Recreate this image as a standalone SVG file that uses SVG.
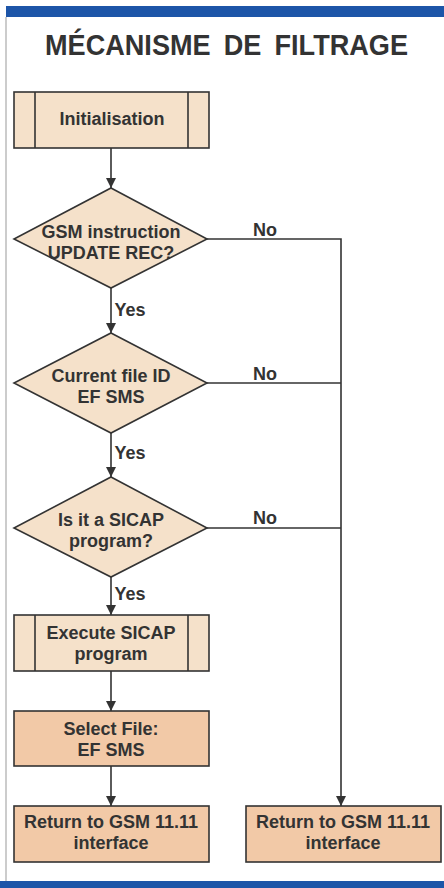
<svg xmlns="http://www.w3.org/2000/svg" width="444" height="888" viewBox="0 0 444 888">
<style>
.t{font-family:"Liberation Sans",Arial,sans-serif;font-weight:700;fill:#333;text-anchor:middle;font-size:18px}
.title{font-family:"Liberation Sans",Arial,sans-serif;font-weight:700;fill:#333;font-size:29px;word-spacing:6px}
.light{fill:#f5e1ca;stroke:#333;stroke-width:1.6}
.dark{fill:#f2c9a7;stroke:#333;stroke-width:1.6}
.ln{stroke:#333;stroke-width:1.6;fill:none}
</style>
<defs>
<marker id="ah" viewBox="0 0 10 10" refX="10" refY="5" markerWidth="10" markerHeight="10" markerUnits="userSpaceOnUse" orient="auto">
<path d="M0,0 L10,5 L0,10 z" fill="#333"/>
</marker>
</defs>
<rect x="0" y="0" width="444" height="888" fill="#fff"/>
<rect x="6" y="6" width="438" height="11" fill="#1d55a8"/>
<rect x="0" y="881" width="444" height="7" fill="#1d55a8"/>
<line x1="6" y1="17" x2="6" y2="881" stroke="#bbb" stroke-width="1.5"/>
<text class="title" x="226.5" y="55" text-anchor="middle" textLength="363" lengthAdjust="spacingAndGlyphs">MÉCANISME DE FILTRAGE</text>

<g id="connectors">
<line class="ln" x1="111" y1="148" x2="111" y2="188" marker-end="url(#ah)"/>
<line class="ln" x1="111" y1="288" x2="111" y2="333" marker-end="url(#ah)"/>
<line class="ln" x1="111" y1="433" x2="111" y2="477" marker-end="url(#ah)"/>
<line class="ln" x1="111" y1="577" x2="111" y2="615" marker-end="url(#ah)"/>
<line class="ln" x1="111" y1="671" x2="111" y2="711" marker-end="url(#ah)"/>
<line class="ln" x1="111" y1="766" x2="111" y2="806" marker-end="url(#ah)"/>
<polyline class="ln" points="207,239 341,239 341,806" marker-end="url(#ah)"/>
<line class="ln" x1="207" y1="383" x2="341" y2="383"/>
<line class="ln" x1="207" y1="528" x2="341" y2="528"/>
<text class="t" x="130" y="316">Yes</text>
<text class="t" x="130" y="459">Yes</text>
<text class="t" x="130" y="600">Yes</text>
<text class="t" x="265" y="236">No</text>
<text class="t" x="265" y="380">No</text>
<text class="t" x="265" y="524">No</text>
</g>

<g id="init">
<rect class="light" x="14" y="92" width="195" height="56"/>
<line class="ln" x1="35" y1="92" x2="35" y2="148"/>
<line class="ln" x1="188" y1="92" x2="188" y2="148"/>
<text class="t" x="112" y="125">Initialisation</text>
</g>

<g id="dec1">
<polygon class="light" points="111,188 207,239 111,288 14,239"/>
<text class="t" x="111" y="238">GSM instruction</text>
<text class="t" x="111" y="259">UPDATE REC?</text>
</g>

<g id="dec2">
<polygon class="light" points="111,333 207,383 111,433 14,383"/>
<text class="t" x="111" y="382">Current file ID</text>
<text class="t" x="111" y="403">EF SMS</text>
</g>

<g id="dec3">
<polygon class="light" points="111,477 207,528 111,577 14,528"/>
<text class="t" x="111" y="526">Is it a SICAP</text>
<text class="t" x="111" y="547">program?</text>
</g>

<g id="exec">
<rect class="light" x="14" y="615" width="195" height="56"/>
<line class="ln" x1="35" y1="615" x2="35" y2="671"/>
<line class="ln" x1="188" y1="615" x2="188" y2="671"/>
<text class="t" x="111" y="639">Execute SICAP</text>
<text class="t" x="111" y="660">program</text>
</g>

<g id="select">
<rect class="dark" x="14" y="711" width="195" height="55"/>
<text class="t" x="111" y="735">Select File:</text>
<text class="t" x="111" y="756">EF SMS</text>
</g>

<g id="ret1">
<rect class="dark" x="14" y="806" width="195" height="56"/>
<text class="t" x="111" y="828">Return to GSM 11.11</text>
<text class="t" x="111" y="849">interface</text>
</g>

<g id="ret2">
<rect class="dark" x="246" y="806" width="195" height="56"/>
<text class="t" x="343" y="828">Return to GSM 11.11</text>
<text class="t" x="343" y="849">interface</text>
</g>
</svg>
